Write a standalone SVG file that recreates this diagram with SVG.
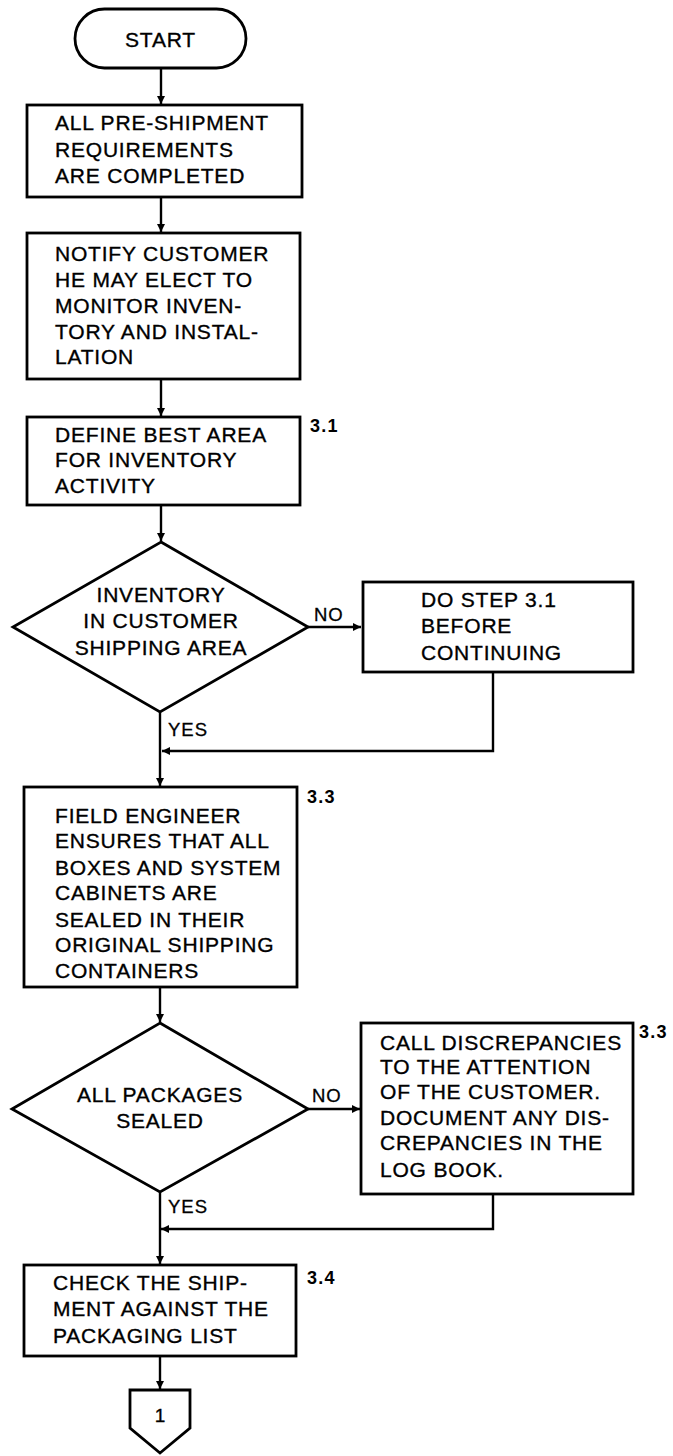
<svg xmlns="http://www.w3.org/2000/svg" width="673" height="1456" viewBox="0 0 673 1456">
<style>
.shape{fill:#fff;stroke:#000;stroke-width:2.8}
.t{font-family:"Liberation Sans",Arial,sans-serif;font-size:21px;fill:#000;stroke:#000;stroke-width:0.35;letter-spacing:0.8px}
.c{text-anchor:middle}
.lbl{font-family:"Liberation Sans",Arial,sans-serif;font-size:18.5px;fill:#000;stroke:#000;stroke-width:0.3;letter-spacing:1px}
.num{font-family:"Liberation Sans",Arial,sans-serif;font-size:18px;font-weight:bold;fill:#000;letter-spacing:1.2px}
.conn{fill:none;stroke:#000;stroke-width:2.4}
</style>
<defs>
<marker id="arr" viewBox="0 0 10 10" refX="10" refY="5" markerWidth="9" markerHeight="8" markerUnits="userSpaceOnUse" orient="auto">
<path d="M0,0 L10,5 L0,10 Z" fill="#000"/>
</marker>
</defs>
<rect width="673" height="1456" fill="#fff"/>
<g id="connectors">
<path class="conn" d="M161,68 V104" marker-end="url(#arr)"/>
<path class="conn" d="M161,197 V232" marker-end="url(#arr)"/>
<path class="conn" d="M161,379 V416" marker-end="url(#arr)"/>
<path class="conn" d="M161,505 V541" marker-end="url(#arr)"/>
<path class="conn" d="M308,627 H361" marker-end="url(#arr)"/>
<path class="conn" d="M493,672 V751 H162" marker-end="url(#arr)"/>
<path class="conn" d="M160,712 V786" marker-end="url(#arr)"/>
<path class="conn" d="M160,987 V1022" marker-end="url(#arr)"/>
<path class="conn" d="M308,1109 H360" marker-end="url(#arr)"/>
<path class="conn" d="M493,1194 V1229 H161" marker-end="url(#arr)"/>
<path class="conn" d="M160,1192 V1264" marker-end="url(#arr)"/>
<path class="conn" d="M160,1356 V1389" marker-end="url(#arr)"/>
<text class="lbl" x="314" y="621">NO</text>
<text class="lbl" x="168" y="736">YES</text>
<text class="lbl" x="312" y="1102">NO</text>
<text class="lbl" x="168" y="1213">YES</text>
</g>
<g id="start">
<rect class="shape" x="75" y="9" width="171" height="59" rx="29.5"/>
<text class="t c" x="160.5" y="47">START</text>
</g>
<g id="preship">
<rect class="shape" x="27" y="105" width="275" height="92"/>
<text class="t" x="55" y="130">ALL PRE-SHIPMENT</text>
<text class="t" x="55" y="157">REQUIREMENTS</text>
<text class="t" x="55" y="183">ARE COMPLETED</text>
</g>
<g id="notify">
<rect class="shape" x="27" y="233" width="273" height="146"/>
<text class="t" x="55" y="261">NOTIFY CUSTOMER</text>
<text class="t" x="55" y="287">HE MAY ELECT TO</text>
<text class="t" x="55" y="313">MONITOR INVEN-</text>
<text class="t" x="55" y="339">TORY AND INSTAL-</text>
<text class="t" x="55" y="364">LATION</text>
</g>
<g id="define">
<rect class="shape" x="27" y="417" width="273" height="88"/>
<text class="t" x="55" y="442">DEFINE BEST AREA</text>
<text class="t" x="55" y="467">FOR INVENTORY</text>
<text class="t" x="55" y="493">ACTIVITY</text>
<text class="num" x="310" y="432">3.1</text>
</g>
<g id="decision1">
<polygon class="shape" points="161,542 308,627 160,712 13,627"/>
<text class="t c" x="161" y="602">INVENTORY</text>
<text class="t c" x="161" y="628">IN CUSTOMER</text>
<text class="t c" x="161" y="655">SHIPPING AREA</text>
</g>
<g id="dostep">
<rect class="shape" x="363" y="582" width="270" height="90"/>
<text class="t" x="421" y="607">DO STEP 3.1</text>
<text class="t" x="421" y="633">BEFORE</text>
<text class="t" x="421" y="660">CONTINUING</text>
</g>
<g id="field">
<rect class="shape" x="24" y="787" width="273" height="200"/>
<text class="t" x="55" y="823">FIELD ENGINEER</text>
<text class="t" x="55" y="848">ENSURES THAT ALL</text>
<text class="t" x="55" y="875">BOXES AND SYSTEM</text>
<text class="t" x="55" y="900">CABINETS ARE</text>
<text class="t" x="55" y="927">SEALED IN THEIR</text>
<text class="t" x="55" y="952">ORIGINAL SHIPPING</text>
<text class="t" x="55" y="978">CONTAINERS</text>
<text class="num" x="307" y="803">3.3</text>
</g>
<g id="decision2">
<polygon class="shape" points="160,1023 308,1109 160,1192 12,1109"/>
<text class="t c" x="160" y="1102">ALL PACKAGES</text>
<text class="t c" x="160" y="1128">SEALED</text>
</g>
<g id="discrep">
<rect class="shape" x="361" y="1023" width="272" height="171"/>
<text class="t" x="380" y="1050">CALL DISCREPANCIES</text>
<text class="t" x="380" y="1074">TO THE ATTENTION</text>
<text class="t" x="380" y="1099">OF THE CUSTOMER.</text>
<text class="t" x="380" y="1125">DOCUMENT ANY DIS-</text>
<text class="t" x="380" y="1150">CREPANCIES IN THE</text>
<text class="t" x="380" y="1177">LOG BOOK.</text>
<text class="num" x="639" y="1038">3.3</text>
</g>
<g id="check">
<rect class="shape" x="24" y="1265" width="272" height="91"/>
<text class="t" x="53" y="1290">CHECK THE SHIP-</text>
<text class="t" x="53" y="1316">MENT AGAINST THE</text>
<text class="t" x="53" y="1343">PACKAGING LIST</text>
<text class="num" x="307" y="1284">3.4</text>
</g>
<g id="offpage">
<polygon class="shape" points="130,1390 190,1390 190,1428 160,1453 130,1428"/>
<text class="t c" x="160" y="1422" style="font-size:19px;letter-spacing:0">1</text>
</g>
</svg>
